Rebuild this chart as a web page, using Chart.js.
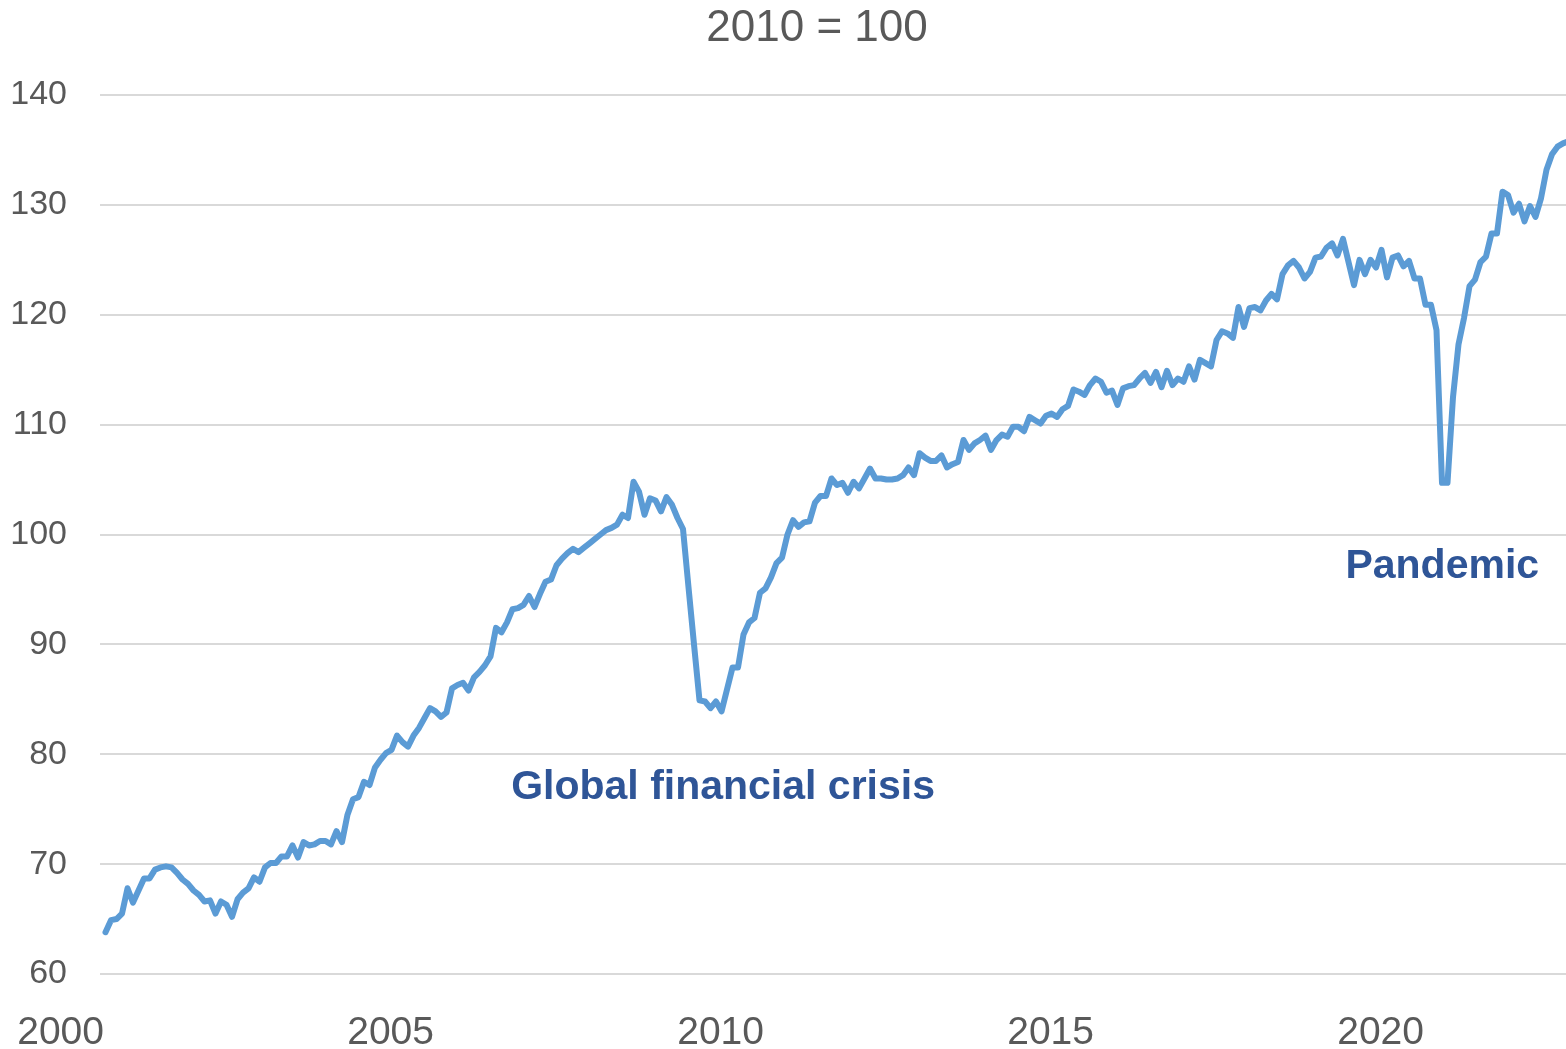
<!DOCTYPE html>
<html>
<head>
<meta charset="utf-8">
<title>2010 = 100</title>
<script src="https://cdn.jsdelivr.net/npm/chart.js@4.4.1/dist/chart.umd.min.js"></script>
<style>
    html, body { margin: 0; padding: 0; background: #ffffff; }
</style>
</head>
<body>
<canvas class="index-chart" width="1566" height="1049"></canvas>
<script>
/*============================
  MONTHLY INDEX, 2010 = 100
=============================*/

let
    startYear = 2000,
    yearTicks = [2000, 2005, 2010, 2015, 2020],
    valueTicks = [60, 70, 80, 90, 100, 110, 120, 130, 140],
    titleText = '2010 = 100',
    noteText = ['Global financial crisis', 'Pandemic'];

// monthly values, Jan 2000 - Dec 2009
let index2000s = [
    63.8, 64.9, 65.0, 65.5, 67.8, 66.5, 67.6, 68.7, 68.7, 69.5, 69.7, 69.8,
    69.7, 69.2, 68.6, 68.2, 67.6, 67.2, 66.6, 66.7, 65.5, 66.6, 66.3, 65.2,
    66.8, 67.4, 67.8, 68.8, 68.4, 69.7, 70.1, 70.1, 70.7, 70.7, 71.7, 70.6,
    72.0, 71.7, 71.8, 72.1, 72.1, 71.8, 73.0, 72.0, 74.5, 75.9, 76.1, 77.5,
    77.2, 78.8, 79.5, 80.1, 80.4, 81.7, 81.1, 80.7, 81.7, 82.4, 83.3, 84.2,
    83.9, 83.4, 83.8, 86.0, 86.3, 86.5, 85.8, 87.0, 87.5, 88.1, 88.9, 91.5,
    91.1, 92.0, 93.2, 93.3, 93.6, 94.4, 93.4, 94.6, 95.7, 95.9, 97.2, 97.8,
    98.3, 98.7, 98.4, 98.8, 99.2, 99.6, 100.0, 100.4, 100.6, 100.9, 101.8, 101.5,
    104.8, 103.9, 101.8, 103.3, 103.1, 102.1, 103.4, 102.7, 101.5, 100.5, 95.2, 90.0,
    84.9, 84.8, 84.2, 84.8, 83.9, 85.9, 87.9, 87.9, 90.9, 92.0, 92.4, 94.7
];

// Jan 2010 - Dec 2019
let index2010s = [
    95.1, 96.1, 97.4, 97.9, 100.0, 101.3, 100.7, 101.1, 101.2, 102.9, 103.5, 103.5,
    105.1, 104.5, 104.7, 103.8, 104.8, 104.2, 105.1, 106.0, 105.1, 105.1, 105.0, 105.0,
    105.1, 105.4, 106.1, 105.4, 107.4, 107.0, 106.7, 106.7, 107.2, 106.1, 106.4, 106.6,
    108.6, 107.7, 108.3, 108.6, 109.0, 107.7, 108.6, 109.1, 108.9, 109.8, 109.8, 109.4,
    110.7, 110.4, 110.1, 110.8, 111.0, 110.7, 111.4, 111.7, 113.2, 113.0, 112.7, 113.6,
    114.2, 113.9, 112.9, 113.1, 111.8, 113.3, 113.5, 113.6, 114.2, 114.7, 113.8, 114.8,
    113.4, 114.9, 113.6, 114.2, 113.9, 115.3, 114.1, 115.9, 115.6, 115.3, 117.7, 118.5,
    118.3, 117.9, 120.7, 118.9, 120.6, 120.7, 120.4, 121.3, 121.9, 121.4, 123.7, 124.5,
    124.9, 124.3, 123.3, 123.9, 125.2, 125.3, 126.1, 126.5, 125.4, 126.9, 124.8, 122.7,
    125.0, 123.7, 125.0, 124.3, 125.9, 123.4, 125.2, 125.4, 124.4, 124.9, 123.3, 123.3
];

// Jan 2020 onwards
let index2020s = [
    120.9, 120.9, 118.6, 104.7, 104.7, 112.5, 117.3, 119.7, 122.6, 123.2, 124.8, 125.3,
    127.4, 127.4, 131.2, 130.9, 129.3, 130.1, 128.5, 129.9, 128.9, 130.6, 133.2, 134.6,
    135.3, 135.6, 135.8
];

let monthlyIndex = index2000s.concat(index2010s, index2020s);

// month-end dates on a year scale
let points = monthlyIndex.map((v, i) => ({ x: startYear + (i + 1) / 12, y: v }));

// where the two notes sit, in axis units (left edge, middle)
let noteAt = [
    [2006.23, 77.0],
    [2018.87, 97.1]
];

let fontFamily = '"Liberation Sans", Arial, sans-serif';


// title and the two notes are drawn straight on the canvas
const textPlugin = {
    id: 'chartText',
    afterDatasetsDraw(chart) {
        let ctx = chart.ctx,
            xScale = chart.scales.x,
            yScale = chart.scales.y;
        ctx.save();

        ctx.font = '44px ' + fontFamily;
        ctx.fillStyle = '#595959';
        ctx.textAlign = 'center';
        ctx.textBaseline = 'middle';
        ctx.fillText(titleText, (68 + chart.width) / 2, 29);

        ctx.font = 'bold 41px ' + fontFamily;
        ctx.fillStyle = '#2f5597';
        ctx.textAlign = 'left';
        noteText.forEach((text, i) => {
            ctx.fillText(text, xScale.getPixelForValue(noteAt[i][0]), yScale.getPixelForValue(noteAt[i][1]));
        });
        ctx.restore();
    }
};


function displayIndexChart() {
    let indexChart = document.querySelector('.index-chart').getContext('2d');
    let indexLineChart;
    indexLineChart = new Chart(indexChart, {
        type: 'line',
        data: {
            datasets: [{
                label: 'Index',
                data: points,
                borderColor: '#5b9bd5',
                borderWidth: 6,
                borderJoinStyle: 'round',
                borderCapStyle: 'round',
                pointRadius: 0,
                tension: 0,
                fill: false
            }]
        },
        options: {
            responsive: false,
            animation: false,
            layout: {
                padding: { left: 0, right: 0, top: 95, bottom: 0 }
            },
            plugins: {
                legend: { display: false },
                tooltip: { enabled: false },
                title: { display: false }
            },
            scales: {
                x: {
                    type: 'linear',
                    min: startYear,
                    max: startYear + 1466 / 66,
                    grid: { display: false, drawTicks: false },
                    border: { display: false },
                    afterBuildTicks: (scale) => {
                        scale.ticks = yearTicks.map(v => ({ value: v }));
                    },
                    afterFit: (scale) => {
                        scale.height = 75;
                        scale.paddingLeft = 0;
                        scale.paddingRight = 0;
                    },
                    ticks: {
                        align: 'end',
                        labelOffset: 4,
                        maxRotation: 0,
                        autoSkip: false,
                        padding: 36,
                        color: '#595959',
                        font: { family: fontFamily, size: 39 },
                        callback: (v) => String(v)
                    }
                },
                y: {
                    min: valueTicks[0],
                    max: valueTicks[valueTicks.length - 1],
                    grid: { color: '#d9d9d9', lineWidth: 2, drawTicks: false },
                    border: { display: false },
                    afterBuildTicks: (scale) => {
                        scale.ticks = valueTicks.map(v => ({ value: v }));
                    },
                    afterFit: (scale) => {
                        scale.width = 100;
                        scale.paddingTop = 0;
                        scale.paddingBottom = 0;
                    },
                    ticks: {
                        padding: 33,
                        color: '#595959',
                        font: { family: fontFamily, size: 34 },
                        callback: (v) => String(v)
                    }
                }
            }
        },
        plugins: [textPlugin]
    });
}
displayIndexChart();
</script>
</body>
</html>
